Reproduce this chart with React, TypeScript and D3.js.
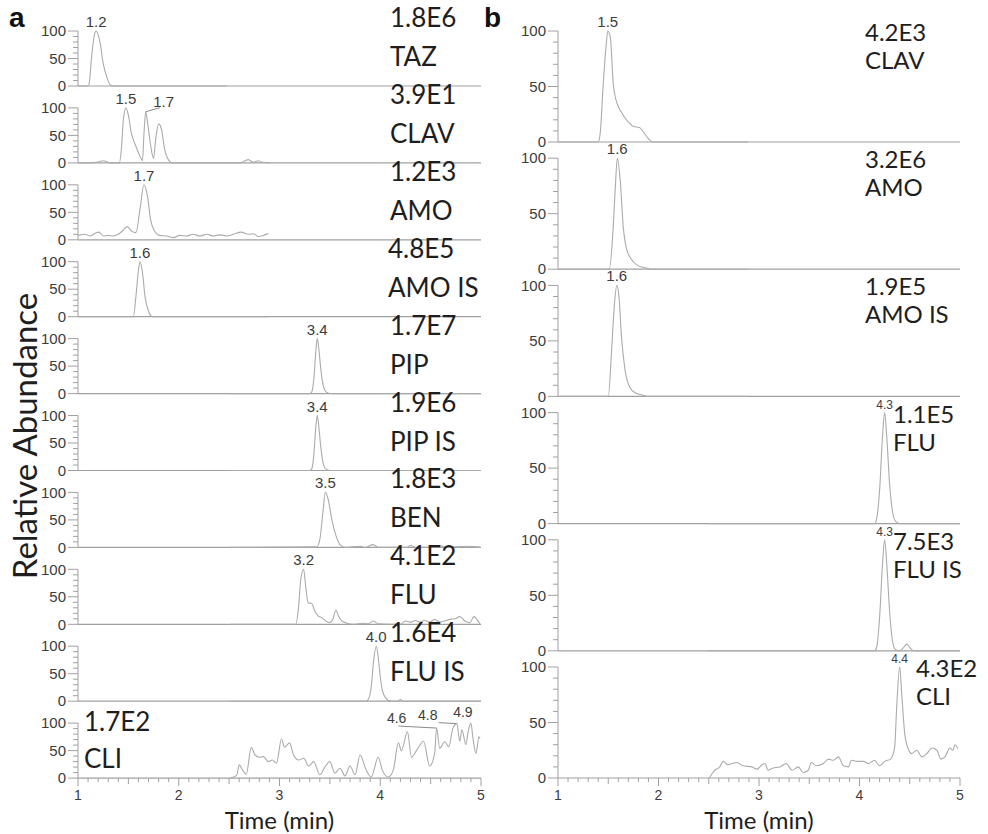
import React from "react";
import * as d3 from "d3";

type Pt = [number, number];
type Peak = { t: number; text: string };

// ---------- Panel a: extracted ion chromatograms (time in min, relative abundance %) ----------
const tazA: Pt[] = [[1.0, 0], [1.1, 0], [1.115, 10], [1.135, 53], [1.16, 90], [1.18, 100], [1.2, 93], [1.22, 78], [1.25, 41], [1.285, 17], [1.32, 2], [1.36, 0], [2.48, 0]];
const clavA: Pt[] = [[1.0, 0], [1.185, 1], [1.25, 4], [1.32, 0], [1.41, 0], [1.43, 24], [1.45, 78], [1.475, 100], [1.5, 87], [1.53, 54], [1.575, 30], [1.615, 12], [1.64, 4], [1.655, 54], [1.672, 93], [1.69, 74], [1.72, 33], [1.75, 8], [1.77, 41], [1.8, 71], [1.83, 60], [1.86, 24], [1.9, 5], [1.93, 0], [2.61, 0], [2.66, 4], [2.69, 6], [2.74, 1], [2.79, 4], [2.82, 1.5], [2.905, 0]];
const amoA: Pt[] = [[1.0, 8], [1.07, 10], [1.12, 7], [1.17, 12], [1.21, 14], [1.25, 7], [1.3, 8], [1.35, 7], [1.4, 10], [1.44, 16], [1.49, 24], [1.53, 16], [1.575, 13], [1.615, 55], [1.655, 100], [1.69, 79], [1.72, 37], [1.76, 16], [1.81, 8], [1.88, 7], [1.95, 4], [2.01, 8], [2.08, 7], [2.14, 10], [2.21, 7], [2.28, 10], [2.34, 7], [2.41, 9], [2.48, 7], [2.54, 10], [2.62, 14], [2.69, 10], [2.74, 11], [2.79, 6], [2.84, 8], [2.89, 12]];
const amoIsA: Pt[] = [[1.0, 0], [1.55, 0], [1.575, 37], [1.6, 85], [1.615, 100], [1.64, 80], [1.665, 37], [1.7, 10], [1.73, 1], [1.76, 0], [2.89, 0]];
const pipA: Pt[] = [[2.5, 0], [3.3, 0], [3.32, 3], [3.34, 25], [3.36, 75], [3.375, 100], [3.39, 82], [3.41, 45], [3.43, 18], [3.45, 6], [3.48, 1], [3.52, 0], [5.0, 0]];
const pipIsA: Pt[] = [[2.5, 0], [3.3, 0], [3.32, 3], [3.34, 27], [3.36, 78], [3.375, 100], [3.39, 80], [3.41, 42], [3.43, 16], [3.45, 5], [3.48, 1], [3.52, 0], [5.0, 0]];
const benA: Pt[] = [[2.51, 0], [3.37, 1], [3.4, 14], [3.43, 62], [3.455, 100], [3.485, 86], [3.52, 50], [3.56, 22], [3.6, 5], [3.65, 0], [3.8, 2], [3.85, 0], [3.93, 5], [3.98, 0], [4.26, 0], [4.3, 3.5], [4.35, 0], [4.58, 0], [4.6, 3.5], [4.64, 0], [4.86, 2], [4.96, 1], [4.99, 0]];
const fluA: Pt[] = [[2.51, 0], [3.16, 0], [3.19, 33], [3.21, 80], [3.24, 100], [3.26, 68], [3.285, 39], [3.32, 38], [3.35, 24], [3.385, 15], [3.42, 12], [3.46, 6], [3.5, 3], [3.53, 9], [3.56, 26], [3.585, 15], [3.62, 6], [3.67, 2], [3.73, 0], [3.83, 2], [3.88, 1], [3.93, 6], [3.98, 1], [4.2, 0], [4.25, 6], [4.3, 4], [4.35, 7], [4.39, 4], [4.44, 7], [4.49, 4], [4.54, 9], [4.59, 4], [4.64, 6], [4.69, 9], [4.74, 10], [4.79, 14], [4.84, 6], [4.89, 3], [4.93, 14], [4.96, 9], [4.99, 1]];
const fluIsA: Pt[] = [[2.51, 0], [3.86, 0], [3.88, 3], [3.91, 25], [3.935, 75], [3.96, 100], [3.98, 80], [4.0, 45], [4.02, 20], [4.05, 7], [4.08, 1], [4.12, 0], [4.17, 0], [4.2, 3], [4.23, 0], [5.0, 0]];
const cliA: Pt[] = [[2.51, 0], [2.575, 5], [2.6, 24], [2.635, 14], [2.67, 7], [2.72, 56], [2.757, 42], [2.8, 38], [2.84, 39], [2.89, 30], [2.93, 33], [2.97, 27], [3.02, 71], [3.05, 56], [3.1, 64], [3.14, 42], [3.19, 33], [3.24, 36], [3.29, 22], [3.34, 30], [3.4, 6], [3.45, 20], [3.5, 30], [3.55, 9], [3.6, 18], [3.65, 4], [3.7, 22], [3.75, 6], [3.8, 42], [3.86, 15], [3.91, 2], [3.98, 38], [4.02, 15], [4.08, 2], [4.13, 15], [4.18, 64], [4.21, 50], [4.27, 84], [4.31, 38], [4.36, 50], [4.43, 67], [4.49, 22], [4.54, 45], [4.56, 91], [4.59, 54], [4.64, 66], [4.68, 57], [4.72, 90], [4.76, 99], [4.79, 67], [4.81, 88], [4.85, 61], [4.87, 82], [4.9, 100], [4.92, 73], [4.95, 45], [4.98, 75], [4.99, 72]];

const namesA = ["TAZ", "CLAV", "AMO", "AMO IS", "PIP", "PIP IS", "BEN", "FLU", "FLU IS", "CLI"];
const levelsA = ["1.8E6", "3.9E1", "1.2E3", "4.8E5", "1.7E7", "1.9E6", "1.8E3", "4.1E2", "1.6E4", "1.7E2"];
const tracesA = [tazA, clavA, amoA, amoIsA, pipA, pipIsA, benA, fluA, fluIsA, cliA];
const peaksA: Peak[][] = [
  [{ t: 1.18, text: "1.2" }],
  [{ t: 1.475, text: "1.5" }, { t: 1.672, text: "1.7" }],
  [{ t: 1.655, text: "1.7" }],
  [{ t: 1.615, text: "1.6" }],
  [{ t: 3.375, text: "3.4" }],
  [{ t: 3.375, text: "3.4" }],
  [{ t: 3.455, text: "3.5" }],
  [{ t: 3.24, text: "3.2" }],
  [{ t: 3.96, text: "4.0" }],
  [{ t: 4.56, text: "4.6" }, { t: 4.76, text: "4.8" }, { t: 4.9, text: "4.9" }],
];

// ---------- Panel b ----------
const clavB: Pt[] = [[1.0, 0], [1.4, 0], [1.42, 8], [1.45, 52], [1.48, 88], [1.495, 100], [1.52, 95], [1.55, 52], [1.58, 37], [1.63, 27], [1.7, 18], [1.75, 14], [1.81, 13], [1.85, 9], [1.9, 3], [1.94, 0], [2.89, 0]];
const amoB: Pt[] = [[1.0, 0], [1.51, 0], [1.545, 31], [1.57, 73], [1.59, 100], [1.62, 79], [1.65, 37], [1.68, 19], [1.73, 9], [1.8, 3], [1.88, 1], [1.92, 0], [2.89, 0]];
const amoIsB: Pt[] = [[1.0, 0], [1.5, 0], [1.535, 44], [1.56, 81], [1.585, 100], [1.61, 86], [1.63, 56], [1.665, 25], [1.71, 9], [1.77, 3], [1.85, 1], [1.9, 0], [2.89, 0]];
const fluB: Pt[] = [[2.5, 0], [4.15, 0], [4.17, 4], [4.2, 30], [4.23, 80], [4.25, 100], [4.27, 80], [4.3, 35], [4.33, 10], [4.36, 2], [4.4, 0], [5.0, 0]];
const fluIsB: Pt[] = [[2.5, 0], [4.15, 0], [4.17, 3], [4.2, 30], [4.23, 80], [4.25, 100], [4.27, 80], [4.3, 35], [4.33, 8], [4.36, 1], [4.4, 0], [4.44, 3], [4.47, 6], [4.5, 3], [4.54, 0], [5.0, 0]];
const cliB: Pt[] = [[2.506, 0], [2.56, 7], [2.61, 10], [2.645, 15], [2.69, 12], [2.78, 14], [2.84, 11], [2.93, 10], [2.98, 8], [3.03, 12], [3.06, 13], [3.09, 7], [3.14, 9], [3.21, 10], [3.27, 13], [3.33, 7], [3.39, 10], [3.44, 5], [3.49, 7], [3.52, 14], [3.57, 11], [3.64, 13], [3.69, 17], [3.74, 16], [3.79, 19], [3.84, 11], [3.89, 10], [3.92, 16], [3.97, 15], [4.04, 15], [4.09, 13], [4.15, 16], [4.2, 11], [4.25, 15], [4.31, 17], [4.35, 28], [4.37, 64], [4.4, 100], [4.42, 76], [4.45, 40], [4.49, 25], [4.52, 22], [4.57, 25], [4.62, 19], [4.67, 22], [4.72, 27], [4.77, 25], [4.81, 17], [4.85, 19], [4.9, 27], [4.93, 25], [4.95, 30], [4.98, 26]];

const namesB = ["CLAV", "AMO", "AMO IS", "FLU", "FLU IS", "CLI"];
const levelsB = ["4.2E3", "3.2E6", "1.9E5", "1.1E5", "7.5E3", "4.3E2"];
const tracesB = [clavB, amoB, amoIsB, fluB, fluIsB, cliB];
const peaksB: Peak[][] = [
  [{ t: 1.495, text: "1.5" }],
  [{ t: 1.59, text: "1.6" }],
  [{ t: 1.585, text: "1.6" }],
  [{ t: 4.25, text: "4.3" }],
  [{ t: 4.25, text: "4.3" }],
  [{ t: 4.4, text: "4.4" }],
];

const xTicks = [1, 2, 3, 4, 5];

// ---------- styling ----------
const TRACE = "#ababab";
const AXIS = "#a0a0a0";
const TICK_TXT = "#3c3c3c";
const INK = "#1e1e1e";
const SANS = "Arial, 'Liberation Sans', sans-serif";
const HUMANIST = "Lato, 'Open Sans', sans-serif";

type LabelPos = { dx: number; dy: number; leader?: [number, number] };

// label placement overrides (relative to peak top)
const peakPosA: Record<string, LabelPos> = {
  "1-1": { dx: 18, dy: -5, leader: [14, -4] },
  "9-0": { dx: -40, dy: -5, leader: [-38, -2] },
  "9-1": { dx: -29, dy: -4, leader: [-18, -1] },
  "9-2": { dx: -8, dy: -6 },
};

function valueAt(trace: Pt[], t: number) {
  let best = trace[0];
  for (const p of trace) if (Math.abs(p[0] - t) < Math.abs(best[0] - t)) best = p;
  return best[1];
}

interface PanelCfg {
  id: string;
  x0: number;
  x1: number;
  zero0: number;
  step: number;
  h: number;
  names: string[];
  levels: string[];
  traces: Pt[][];
  peaks: Peak[][];
  peakFont: (row: number) => number;
  peakPos: Record<string, LabelPos>;
  labelX: (row: number) => number;
  labelDy: (row: number) => [number, number];
  labelFont: number;
}

function Panel({ cfg }: { cfg: PanelCfg }) {
  const x = d3.scaleLinear().domain([1, 5]).range([cfg.x0, cfg.x1]);
  const n = cfg.names.length;
  const minorX = d3.range(1, 5.0001, 0.1).map((v) => Math.round(v * 10) / 10);
  return (
    <g>
      {cfg.names.map((name, i) => {
        const zero = cfg.zero0 + i * cfg.step;
        const y = d3.scaleLinear().domain([0, 100]).range([zero, zero - cfg.h]);
        const line = d3
          .line<Pt>()
          .x((d) => x(d[0]))
          .y((d) => y(d[1]))
          .curve(d3.curveMonotoneX);
        const yTicks = d3.range(0, 101, 10);
        const [dyNum, dyName] = cfg.labelDy(i);
        const lx = cfg.labelX(i);
        return (
          <g key={name + i}>
            {/* y axis */}
            <line x1={cfg.x0} x2={cfg.x0} y1={y(0)} y2={y(100)} stroke={AXIS} strokeWidth={1} />
            {yTicks.map((tv) => (
              <line
                key={tv}
                x1={cfg.x0 - (tv % 50 === 0 ? 10 : 5)}
                x2={cfg.x0}
                y1={y(tv)}
                y2={y(tv)}
                stroke={AXIS}
                strokeWidth={1}
              />
            ))}
            {[0, 50, 100].map((tv) => (
              <text
                key={"l" + tv}
                x={cfg.x0 - 12}
                y={y(tv)}
                dy="0.35em"
                textAnchor="end"
                fontFamily={SANS}
                fontSize={15}
                fill={TICK_TXT}
              >
                {tv}
              </text>
            ))}
            {/* baseline */}
            <line x1={cfg.x0} x2={cfg.x1} y1={zero} y2={zero} stroke={AXIS} strokeWidth={1.2} />
            {/* trace */}
            <path d={line(cfg.traces[i]) || ""} fill="none" stroke={TRACE} strokeWidth={1.1} />
            {/* peak labels */}
            {cfg.peaks[i].map((pk, k) => {
              const px = x(pk.t);
              const py = y(valueAt(cfg.traces[i], pk.t));
              const pos = cfg.peakPos[`${i}-${k}`] || { dx: 0, dy: -4 };
              return (
                <g key={k}>
                  {pos.leader && (
                    <line
                      x1={px}
                      y1={py}
                      x2={px + pos.leader[0]}
                      y2={py + pos.leader[1]}
                      stroke="#8a8a8a"
                      strokeWidth={1}
                    />
                  )}
                  <text
                    x={px + pos.dx}
                    y={py + pos.dy}
                    textAnchor="middle"
                    fontFamily={SANS}
                    fontSize={cfg.peakFont(i)}
                    fill={TICK_TXT}
                  >
                    {pk.text}
                  </text>
                </g>
              );
            })}
            {/* compound labels */}
            <text x={lx} y={zero + dyNum} fontFamily={HUMANIST} fontSize={cfg.labelFont} fill={INK}>
              {cfg.levels[i]}
            </text>
            <text x={lx} y={zero + dyName} fontFamily={HUMANIST} fontSize={cfg.labelFont} fill={INK}>
              {name}
            </text>
          </g>
        );
      })}
      {/* x axis on bottom row */}
      {(() => {
        const zero = cfg.zero0 + (n - 1) * cfg.step;
        return (
          <g>
            {minorX.map((v) => {
              const isMajor = Math.abs(v - Math.round(v)) < 1e-6;
              const isHalf = Math.abs(v * 2 - Math.round(v * 2)) < 1e-6;
              const len = isMajor ? 8 : isHalf ? 6 : 4;
              return (
                <line key={v} x1={x(v)} x2={x(v)} y1={zero} y2={zero + len} stroke={AXIS} strokeWidth={1} />
              );
            })}
            {xTicks.map((v) => (
              <text
                key={v}
                x={x(v)}
                y={zero + 22}
                textAnchor="middle"
                fontFamily={SANS}
                fontSize={14}
                fill={TICK_TXT}
              >
                {v}
              </text>
            ))}
            <text
              x={(cfg.x0 + cfg.x1) / 2}
              y={829}
              textAnchor="middle"
              fontFamily={HUMANIST}
              fontSize={24}
              fill={INK}
            >
              Time (min)
            </text>
          </g>
        );
      })()}
    </g>
  );
}

export default function App() {
  const panelA: PanelCfg = {
    id: "a",
    x0: 78,
    x1: 481,
    zero0: 86,
    step: 76.9,
    h: 55,
    names: namesA,
    levels: levelsA,
    traces: tracesA,
    peaks: peaksA,
    peakFont: (i) => (i === 9 ? 14 : 15),
    peakPos: peakPosA,
    labelX: (i) => (i === 9 ? 84 : i === 3 ? 388 : 390),
    labelDy: (i) => (i === 9 ? [-47, -10] : [-59, -20]),
    labelFont: 26,
  };
  const panelB: PanelCfg = {
    id: "b",
    x0: 558,
    x1: 960,
    zero0: 142,
    step: 127.2,
    h: 111,
    names: namesB,
    levels: levelsB,
    traces: tracesB,
    peaks: peaksB,
    peakFont: (i) => (i >= 3 ? 12 : 15),
    peakPos: {},
    labelX: (i) => (i < 3 ? 865 : i < 5 ? 893 : 916),
    labelDy: () => [-101, -73],
    labelFont: 24,
  };
  return (
    <svg
      width={988}
      height={834}
      viewBox="0 0 988 834"
      style={{ position: "absolute", left: 0, top: 0, background: "#fff" }}
    >
      <rect width={988} height={834} fill="#fff" />
      <text x={9} y={27} fontFamily={SANS} fontWeight="bold" fontSize={28} fill="#111">
        a
      </text>
      <text x={484} y={27} fontFamily={SANS} fontWeight="bold" fontSize={28} fill="#111">
        b
      </text>
      <text
        transform="translate(37,436) rotate(-90)"
        textAnchor="middle"
        fontFamily={HUMANIST}
        fontSize={33}
        fill={INK}
      >
        Relative Abundance
      </text>
      <Panel cfg={panelA} />
      <Panel cfg={panelB} />
    </svg>
  );
}
